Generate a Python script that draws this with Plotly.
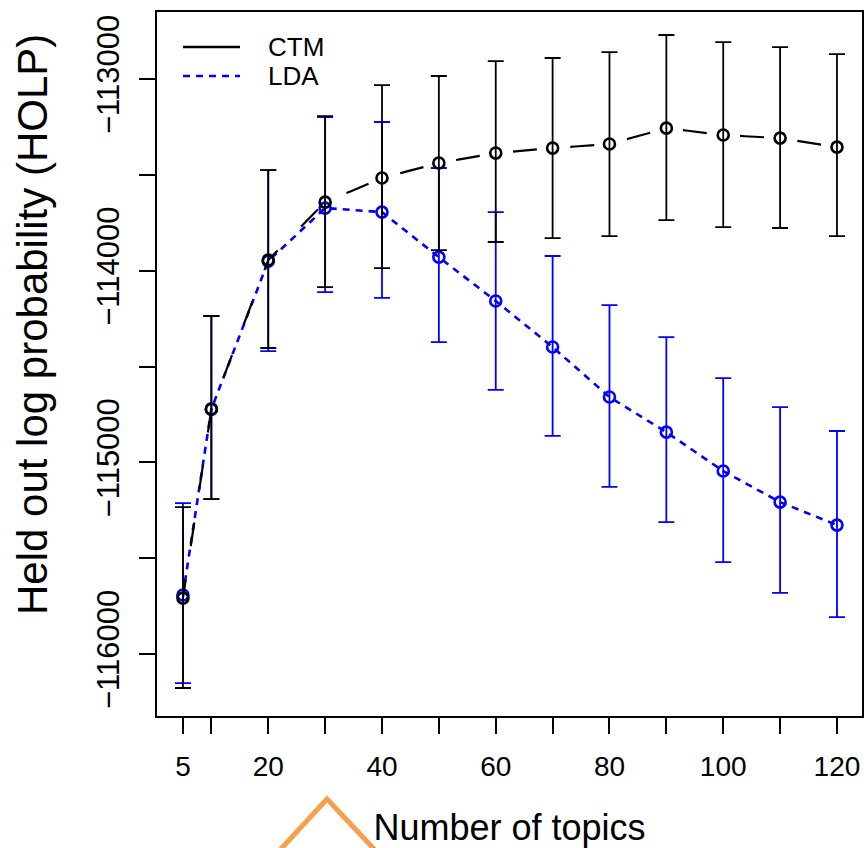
import plotly.graph_objects as go

# ---- data ----
topics = [5, 10, 20, 30, 40, 50, 60, 70, 80, 90, 100, 110, 120]

ctm_mean = [-115708, -114722, -113944, -113642, -113516, -113438, -113386,
            -113360, -113339, -113256, -113292, -113308, -113355]
ctm_upper = [-115233, -114236, -113475, -113193, -113031, -112984, -112906,
             -112890, -112859, -112770, -112807, -112833, -112870]
ctm_lower = [-116177, -115191, -114403, -114085, -113986, -113892, -113850,
             -113830, -113819, -113736, -113772, -113777, -113819]

lda_mean = [-115692, -114722, -113950, -113673, -113694, -113929, -114158,
            -114398, -114659, -114842, -115045, -115207, -115327]
lda_upper = [-115212, -114236, -113475, -113198, -113224, -113464, -113694,
             -113923, -114179, -114346, -114560, -114711, -114836]
lda_lower = [-116151, -115191, -114419, -114111, -114142, -114372, -114622,
             -114862, -115128, -115311, -115520, -115681, -115807]

x_tickvals = [5, 10, 20, 30, 40, 50, 60, 70, 80, 90, 100, 110, 120]
x_ticktext = ["5", "", "20", "", "40", "", "60", "", "80", "", "100", "", "120"]
y_tickvals = [-116000, -115500, -115000, -114500, -114000, -113500, -113000]
y_ticktext = ["\u2212116000", "", "\u2212115000", "", "\u2212114000", "", "\u2212113000"]

series_names = ["CTM", "LDA"]

FONT = "Liberation Sans, Arial, Helvetica, sans-serif"
BLACK = "#000000"
BLUE = "#0000FF"
LDA_DASH = "7px,6px"

def err(mean, upper, lower):
    plus = [u - m for u, m in zip(upper, mean)]
    minus = [m - l for m, l in zip(mean, lower)]
    return plus, minus

fig = go.Figure()

# LDA drawn first so CTM sits on top where they overlap
lp, lm = err(lda_mean, lda_upper, lda_lower)
fig.add_trace(go.Scatter(
    x=topics, y=lda_mean, mode="lines+markers", name=series_names[1], showlegend=False,
    line=dict(color=BLUE, width=2.6, dash=LDA_DASH),
    marker=dict(symbol="circle-open", size=11, color=BLUE, line=dict(width=2.6, color=BLUE)),
    error_y=dict(type="data", symmetric=False, array=lp, arrayminus=lm,
                 color=BLUE, thickness=1.8, width=8),
))

cp, cm = err(ctm_mean, ctm_upper, ctm_lower)
fig.add_trace(go.Scatter(
    x=topics, y=ctm_mean, mode="lines+markers", name=series_names[0], showlegend=False,
    line=dict(color=BLACK, width=2.2, dash="19px,33.5px,5px,0px"),
    marker=dict(symbol="circle-open", size=11, color=BLACK, line=dict(width=2.6, color=BLACK)),
    error_y=dict(type="data", symmetric=False, array=cp, arrayminus=cm,
                 color=BLACK, thickness=1.8, width=8),
))

# ---- layout helpers (pixel -> paper) ----
L, R, T, B, W, H = 157, 5, 12, 132, 867, 848
PW, PH = W - L - R, H - T - B
def px(x):
    return (x - L) / PW
def py(y):
    return (H - B - y) / PH

# manual legend, R style: CTM solid black, LDA dashed blue
legend_shapes = [
    dict(type="line", xref="paper", yref="paper", x0=px(183), x1=px(240), y0=py(47), y1=py(47),
         line=dict(color=BLACK, width=2.6)),
    dict(type="line", xref="paper", yref="paper", x0=px(183), x1=px(240), y0=py(76), y1=py(76),
         line=dict(color=BLUE, width=2.6, dash=LDA_DASH)),
]
legend_texts = [
    dict(text=series_names[0], xref="paper", yref="paper", x=px(266), y=py(47),
         xanchor="left", yanchor="middle", showarrow=False, font=dict(size=26, family=FONT)),
    dict(text=series_names[1], xref="paper", yref="paper", x=px(266), y=py(76),
         xanchor="left", yanchor="middle", showarrow=False, font=dict(size=26, family=FONT)),
]

chevron = dict(type="path", xref="paper", yref="paper",
               path=f"M {px(280)},{py(850)} L {px(327)},{py(799)} L {px(375)},{py(850)}",
               line=dict(color="#F7A04B", width=5))

ytitle = dict(text="Held out log probability (HOLP)", xref="paper", yref="paper",
              x=px(32), y=py(325), xanchor="center", yanchor="middle", textangle=-90,
              showarrow=False, font=dict(size=42, family=FONT))

fig.update_layout(
    width=W, height=H,
    margin=dict(l=L, r=R, t=T, b=B, autoexpand=False),
    paper_bgcolor="white", plot_bgcolor="white",
    font=dict(family=FONT, color="black", size=28),
    showlegend=False,
    shapes=legend_shapes + [chevron],
    annotations=legend_texts + [ytitle],
)

fig.update_xaxes(
    range=[0.44, 124.4], showgrid=False, zeroline=False,
    showline=True, linecolor="black", linewidth=2, mirror=True,
    ticks="outside", ticklen=16, tickwidth=1.6, tickcolor="black",
    tickvals=x_tickvals, ticktext=x_ticktext,
    tickfont=dict(size=28, family=FONT), ticklabelstandoff=8,
    title=dict(text="Number of topics", font=dict(size=36, family=FONT), standoff=34),
)
fig.update_yaxes(
    range=[-116323, -112650], showgrid=False, zeroline=False,
    showline=True, linecolor="black", linewidth=2, mirror=True,
    ticks="outside", ticklen=16, tickwidth=1.6, tickcolor="black",
    tickvals=y_tickvals, ticktext=y_ticktext, tickangle=-90,
    tickfont=dict(size=31, family=FONT), ticklabelstandoff=8,
)

fig.write_html("out.html", config={"displayModeBar": False},
               post_script="document.body.style.margin='0px';")
